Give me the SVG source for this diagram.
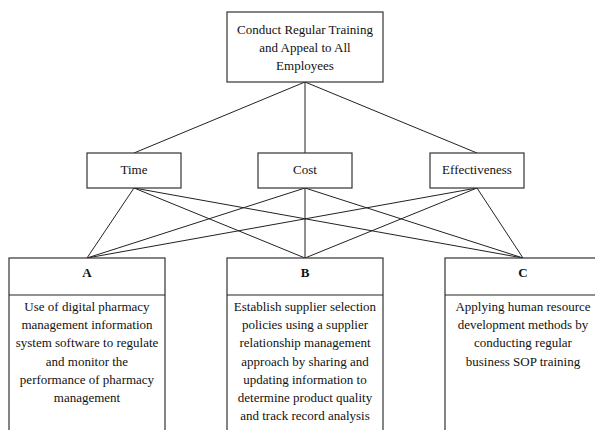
<svg xmlns="http://www.w3.org/2000/svg" width="595" height="430" viewBox="0 0 595 430">
<style>
.box{fill:#fff;stroke:#333;stroke-width:1.2}
.ln{stroke:#222;stroke-width:1;fill:none}
text{font-family:"Liberation Serif","Times New Roman",serif;font-size:13px;fill:#111;text-anchor:middle}
.h{font-weight:bold}
</style>
<rect width="595" height="430" fill="#fff"/>
<g id="connectors">
<line class="ln" x1="305" y1="82" x2="134" y2="153"/>
<line class="ln" x1="305" y1="82" x2="305" y2="153"/>
<line class="ln" x1="305" y1="82" x2="477" y2="153"/>
<line class="ln" x1="134" y1="188" x2="87" y2="258"/>
<line class="ln" x1="134" y1="188" x2="305" y2="258"/>
<line class="ln" x1="134" y1="188" x2="523" y2="258"/>
<line class="ln" x1="305" y1="188" x2="87" y2="258"/>
<line class="ln" x1="305" y1="188" x2="305" y2="258"/>
<line class="ln" x1="305" y1="188" x2="523" y2="258"/>
<line class="ln" x1="477" y1="188" x2="87" y2="258"/>
<line class="ln" x1="477" y1="188" x2="305" y2="258"/>
<line class="ln" x1="477" y1="188" x2="523" y2="258"/>
</g>
<g id="goal">
<rect class="box" x="227" y="12" width="156" height="70"/>
<text x="305" y="33.5">Conduct Regular Training</text>
<text x="305" y="51.5">and Appeal to All</text>
<text x="305" y="69.5">Employees</text>
</g>
<g id="time">
<rect class="box" x="87" y="153" width="94" height="35"/>
<text x="134" y="174">Time</text>
</g>
<g id="cost">
<rect class="box" x="258" y="153" width="94" height="35"/>
<text x="305" y="174">Cost</text>
</g>
<g id="effectiveness">
<rect class="box" x="430" y="153" width="94" height="35"/>
<text x="477" y="174">Effectiveness</text>
</g>
<g id="A">
<rect class="box" x="9" y="258" width="156" height="180"/>
<line class="ln" x1="9" y1="295" x2="165" y2="295"/>
<text class="h" x="87" y="277">A</text>
<text x="87" y="311">Use of digital pharmacy</text>
<text x="87" y="329.2">management information</text>
<text x="87" y="347.4">system software to regulate</text>
<text x="87" y="365.6">and monitor the</text>
<text x="87" y="383.8">performance of pharmacy</text>
<text x="87" y="402">management</text>
</g>
<g id="B">
<rect class="box" x="227" y="258" width="156" height="180"/>
<line class="ln" x1="227" y1="295" x2="383" y2="295"/>
<text class="h" x="305" y="277">B</text>
<text x="305" y="311">Establish supplier selection</text>
<text x="305" y="329.2">policies using a supplier</text>
<text x="305" y="347.4">relationship management</text>
<text x="305" y="365.6">approach by sharing and</text>
<text x="305" y="383.8">updating information to</text>
<text x="305" y="402">determine product quality</text>
<text x="305" y="420.2">and track record analysis</text>
</g>
<g id="C">
<rect class="box" x="445" y="258" width="156" height="180"/>
<line class="ln" x1="445" y1="295" x2="601" y2="295"/>
<text class="h" x="523" y="277">C</text>
<text x="523" y="311">Applying human resource</text>
<text x="523" y="329.2">development methods by</text>
<text x="523" y="347.4">conducting regular</text>
<text x="523" y="365.6">business SOP training</text>
</g>
</svg>
